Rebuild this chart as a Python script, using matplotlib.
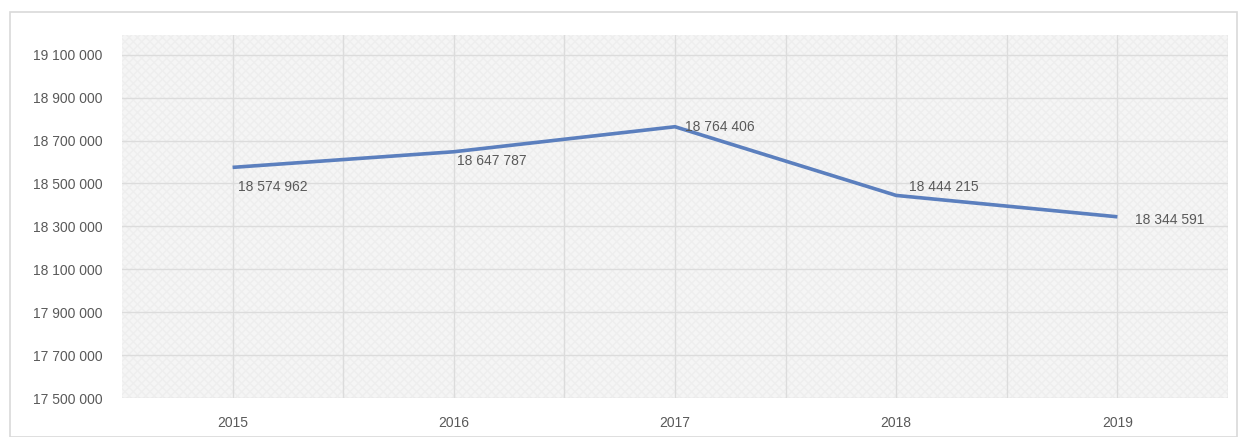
import matplotlib.pyplot as plt
from matplotlib.patches import Rectangle

years = ['2015', '2016', '2017', '2018', '2019']
values = [18574962, 18647787, 18764406, 18444215, 18344591]
y_ticks = [17500000, 17700000, 17900000, 18100000, 18300000, 18500000,
           18700000, 18900000, 19100000]

plt.rcParams['font.family'] = ['Liberation Sans', 'DejaVu Sans']

def fmt(v):
    return f'{v:,}'.replace(',', ' ')

W, H = 1238, 437
fig = plt.figure(figsize=(W / 100, H / 100), dpi=100)
fig.patch.set_facecolor('white')

# outer chart border
fig.add_artist(Rectangle((10 / W, 0), (W - 11) / W, (H - 12) / H,
                         transform=fig.transFigure, fill=False,
                         edgecolor='#d9d9d9', lw=1.2))

ax = fig.add_axes([122 / W, (H - 398) / H, (1228 - 122) / W, (398 - 35) / H])
ax.set_facecolor('#f5f5f5')
ax.add_patch(Rectangle((0, 0), 1, 1, transform=ax.transAxes, fill=False,
                       hatch='xxxx', edgecolor='#eeeeee', lw=0, zorder=0))

x = list(range(len(years)))
ax.set_xlim(-0.5, len(years) - 0.5)
ax.set_ylim(17500000, 19192000)

# gridlines: horizontal at ticks, vertical at centres and boundaries
for yv in y_ticks:
    ax.axhline(yv, color='#dcdcdc', lw=1, zorder=1)
for i in range(len(years)):
    ax.axvline(i, color='#dcdcdc', lw=1, zorder=1)
    ax.axvline(i + 0.5, color='#dcdcdc', lw=1, zorder=1)

ax.plot(x, values, color='#5b7fbe', lw=2.6, zorder=3, solid_capstyle='butt')

# data labels
offsets = [(4, -14), (2, -7), (7, 0), (9, 6), (13, -2)]
for i, v in enumerate(values):
    dx, dy = offsets[i]
    ax.annotate(fmt(v), (i, v), xytext=(dx, dy), textcoords='offset points',
                ha='left', va='center', fontsize=10, color='#595959', zorder=4)

ax.set_xticks(x)
ax.set_xticklabels(years)
ax.set_yticks(y_ticks)
ax.set_yticklabels([fmt(v) for v in y_ticks])
ax.tick_params(axis='both', length=0, labelsize=10, labelcolor='#595959')
ax.tick_params(axis='x', pad=13)
ax.tick_params(axis='y', pad=14)
for s in ax.spines.values():
    s.set_visible(False)

fig.savefig('out.png', dpi=100)
